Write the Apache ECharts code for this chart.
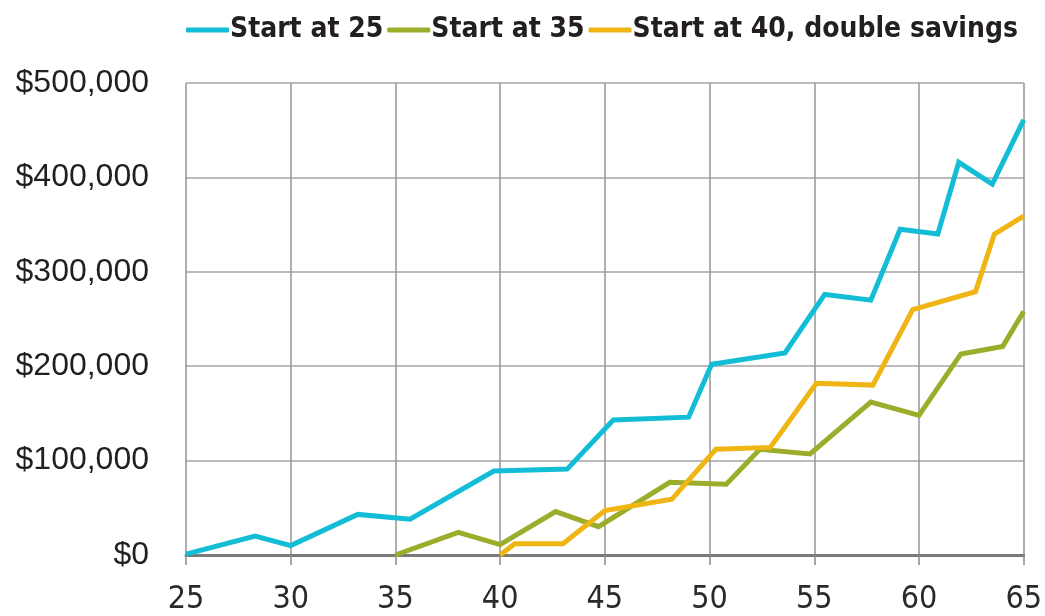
<!DOCTYPE html>
<html>
<head>
<meta charset="utf-8">
<script src="https://cdn.jsdelivr.net/npm/echarts@6/dist/echarts.min.js"></script>
<style>
html,body{margin:0;padding:0;background:#fff;}
#chart{width:1045px;height:616px;}
</style>
</head>
<body>
<div id="chart"></div>
<script>
const seriesNames = ["Start at 25", "Start at 35", "Start at 40, double savings"];
const xTicks = [25, 30, 35, 40, 45, 50, 55, 60, 65];
const yTicks = [0, 100000, 200000, 300000, 400000, 500000];

const start25Ages = [25, 28.3, 30, 33.2, 35.7, 39.7, 43.2, 45.4, 49, 50.1, 53.6, 55.5, 57.7, 59.1, 60.9, 61.9, 63.5, 65];
const start25Vals = [1000, 20000, 10000, 43000, 38000, 89000, 91000, 143000, 146000, 202000, 214000, 276000, 270000, 345000, 340000, 416000, 393000, 461000];

const start35Ages = [35, 38, 40, 42.65, 44.7, 48.1, 50.8, 52.4, 54.8, 57.7, 60, 62, 64, 65];
const start35Vals = [0, 24000, 11000, 46000, 30000, 77000, 75000, 112000, 107000, 162000, 148000, 213000, 221000, 258000];

const start40Ages = [40, 40.7, 43, 45, 48.2, 50.3, 52.9, 55.1, 57.8, 59.7, 62.7, 63.6, 65];
const start40Vals = [0, 12000, 12000, 47000, 59000, 112000, 114000, 182000, 180000, 260000, 279000, 340000, 359000];

const colors = ["#12bdd5", "#9bad2b", "#efb512"];

function pairs(xs, ys){ return xs.map((x,i)=>[x, ys[i]]); }

const chart = echarts.init(document.getElementById('chart'), null, {renderer:'canvas'});
const allSeries = [pairs(start25Ages,start25Vals), pairs(start35Ages,start35Vals), pairs(start40Ages,start40Vals)];

chart.setOption({
  animation:false,
  color: colors,
  legend:{
    left:181, top:11,
    itemWidth:43, itemHeight:5, itemGap:4,
    icon:'roundRect',
    textStyle:{fontFamily:'"DejaVu Sans Condensed", sans-serif', fontWeight:'bold', fontSize:28, color:'#231f20', padding:[0,0,0,-4]},
    data: seriesNames
  },
  grid:{left:186, right:19, top:83, bottom:60, containLabel:false},
  xAxis:{
    type:'value', min:xTicks[0], max:xTicks[xTicks.length-1], interval:5,
    axisLine:{show:true, lineStyle:{color:'#7a7a7a', width:3}},
    axisTick:{show:true, length:10, lineStyle:{color:'#8a8a8a', width:1.5}},
    axisLabel:{fontFamily:'"DejaVu Sans Condensed", sans-serif', fontSize:32, color:'#2a2a2a', margin:29},
    splitLine:{show:true, lineStyle:{color:'#959595', width:1.5}}
  },
  yAxis:{
    type:'value', min:yTicks[0], max:yTicks[yTicks.length-1], interval:100000,
    axisLine:{show:false}, axisTick:{show:false},
    axisLabel:{fontFamily:'"Liberation Sans", Arial, sans-serif', fontSize:32, color:'#231f20', margin:37,
      formatter:v=>'$'+v.toLocaleString('en-US')},
    splitLine:{show:true, lineStyle:{color:'#a5a5a5', width:1.5}}
  },
  series: seriesNames.map((n,i)=>({
    name:n, type:'line', data:allSeries[i], showSymbol:false, symbol:'none',
    lineStyle:{width:5, color:colors[i], join:'miter'}, z:3+i
  }))
});
</script>
</body>
</html>
